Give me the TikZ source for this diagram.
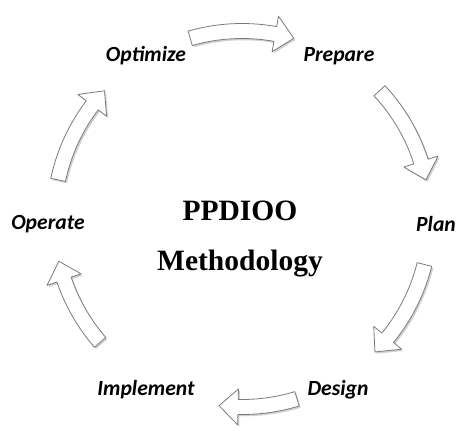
\documentclass[tikz,border=0pt]{standalone}
\usepackage{fontspec}
\setmainfont{Liberation Serif}
\newfontfamily\stagefont{Carlito}
\usepackage[dvipsnames]{xcolor}
\definecolor{edge}{HTML}{7A7A7A}
\definecolor{shade}{HTML}{8A8A8A}
\usepackage{tikz}
\usetikzlibrary{shadows, calc}

% one curved block arrow on the ring: tail angle, tip angle
\newcommand{\ringarrow}[2]{%
  \filldraw[ringarrow]
    ({#1}:\Ro) arc[start angle={#1}, end angle={#2+\Hd}, radius=\Ro]
    -- ({#2+\Hd}:\Rh) -- ({#2}:\R) -- ({#2+\Hd}:\Rl)
    -- ({#2+\Hd}:\Ri) arc[start angle={#2+\Hd}, end angle={#1}, radius=\Ri]
    -- cycle;}

\tikzset{
  stage/.style={font=\stagefont\bfseries\itshape\fontsize{12.3}{14}\selectfont,
                inner sep=1pt},
  title/.style={font=\bfseries\fontsize{16.8}{19}\selectfont, inner sep=1pt},
  ringarrow/.style={fill=white, draw=edge, line width=0.45pt, line join=round,
                    drop shadow={shadow xshift=0.9pt, shadow yshift=-1pt,
                                 opacity=0.4, fill=shade}}
}

\begin{document}
\begin{tikzpicture}[x=0.02cm, y=0.02cm]
  \useasboundingbox (0,0) rectangle (456,430);

  % ring radii: middle, shaft edges, head edges
  \def\R{188}
  \def\Ro{195.5}  \def\Ri{180.5}
  \def\Rh{206}  \def\Rl{170}
  \def\Hd{5.8}

  % stage names
  \node[stage] (optimize)  at (146,374) {Optimize};
  \node[stage] (prepare)   at (339,374) {Prepare};
  \node[stage] (plan)      at (436,206) {Plan};
  \node[stage] (design)    at (338,40)  {Design};
  \node[stage] (implement) at (146,40)  {Implement};
  \node[stage] (operate)   at (48,206)  {Operate};

  % title in the middle
  \node[title] (ppdioo) at (240,219) {PPDIOO};
  \node[title] (method) at (240,166) {Methodology};

  % arrows going round clockwise
  \begin{scope}[shift={(242,211)}]
    \foreach \a/\b in {106/74, 43/12, -14/-45, -73/-97, 221/193, 168/137}
      \ringarrow{\a}{\b};
  \end{scope}
\end{tikzpicture}
\end{document}
